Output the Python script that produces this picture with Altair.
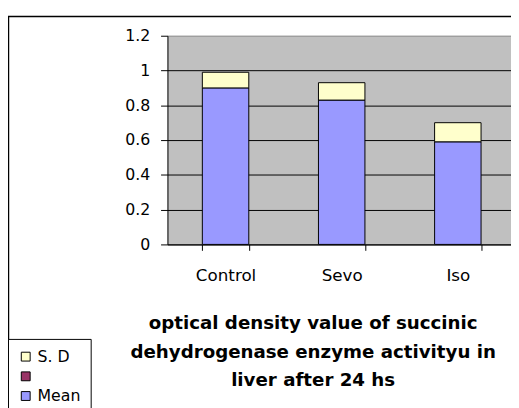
import altair as alt
import pandas as pd

groups = ["Control", "Sevo", "Iso"]
mean_vals = [0.90, 0.83, 0.59]
sd_vals = [0.09, 0.10, 0.11]
legend_labels = ["S. D", " ", "Mean"]
legend_colors = ["#FFFFCC", "#993366", "#9999FF"]
y_ticks = [0, 0.2, 0.4, 0.6, 0.8, 1.0, 1.2]
title_lines = [
    "optical density value of succinic",
    "dehydrogenase enzyme activityu in",
    "liver after 24 hs",
]

rows = []
for g, m, s in zip(groups, mean_vals, sd_vals):
    rows.append({"group": g, "series": "Mean", "value": m, "ord": 0})
    rows.append({"group": g, "series": "S. D", "value": s, "ord": 1})
df = pd.DataFrame(rows)

AXFONT = "DejaVu Sans"

bars = alt.Chart(df).mark_bar(stroke="black", strokeWidth=1, opacity=1).encode(
    x=alt.X(
        "group:N",
        sort=groups,
        title=None,
        scale=alt.Scale(paddingInner=0.6, paddingOuter=0.279, align=0.538),
        axis=alt.Axis(
            labelAngle=0,
            labelFont=AXFONT,
            labelFontSize=17,
            labelColor="black",
            labelPadding=18,
            tickBand="extent",
            tickColor="black",
            tickSize=6,
            domainColor="black",
            grid=False,
        ),
    ),
    y=alt.Y(
        "value:Q",
        stack="zero",
        title=None,
        scale=alt.Scale(domain=[0, 1.2], nice=False),
        axis=alt.Axis(
            values=y_ticks,
            format="~g",
            labelFont=AXFONT,
            labelFontSize=16,
            labelColor="black",
            labelPadding=11,
            tickColor="black",
            tickSize=7,
            domainColor="black",
            grid=True,
            gridColor={"condition": {"test": "datum.value >= 1.1", "value": "#909090"}, "value": "black"},
            gridOpacity=1,
            gridWidth=1,
        ),
    ),
    color=alt.Color(
        "series:N",
        scale=alt.Scale(domain=legend_labels, range=legend_colors),
        legend=alt.Legend(
            title=None,
            orient="none",
            legendX=-162,
            legendY=308,
            strokeColor="black",
            fillColor="white",
            padding=10,
            symbolType="square",
            symbolSize=81,
            symbolStrokeColor="black",
            symbolStrokeWidth=1,
            symbolOpacity=1,
            labelFont=AXFONT,
            labelFontSize=16,
            labelColor="black",
            labelOffset=4,
            rowPadding=4,
        ),
    ),
    order=alt.Order("ord:Q"),
)

one_row = alt.Data(values=[{"k": 1}])

border = alt.Chart(one_row).mark_rect(
    filled=False, stroke="black", strokeWidth=1.5
).encode(
    x=alt.value(-161.5),
    x2=alt.value(600),
    y=alt.value(-19.5),
    y2=alt.value(600),
)

title_text = alt.Chart(one_row).mark_text(
    font="DejaVu Sans",
    fontSize=18.5,
    fontWeight="bold",
    color="black",
    lineHeight=29,
    align="center",
    baseline="top",
).encode(
    x=alt.value(148),
    y=alt.value(283),
    text=alt.value(title_lines),
)

chart = alt.layer(border, bars, title_text).properties(
    width=349,
    height=212,
    autosize=alt.AutoSizeParams(type="none"),
    padding={"left": 162, "top": 25, "right": 0, "bottom": 163},
).configure(
    background="white",
    view=alt.ViewConfig(fill="#C0C0C0", strokeWidth=0),
)

chart.save("out.html", embed_options={"renderer": "svg", "actions": False})
